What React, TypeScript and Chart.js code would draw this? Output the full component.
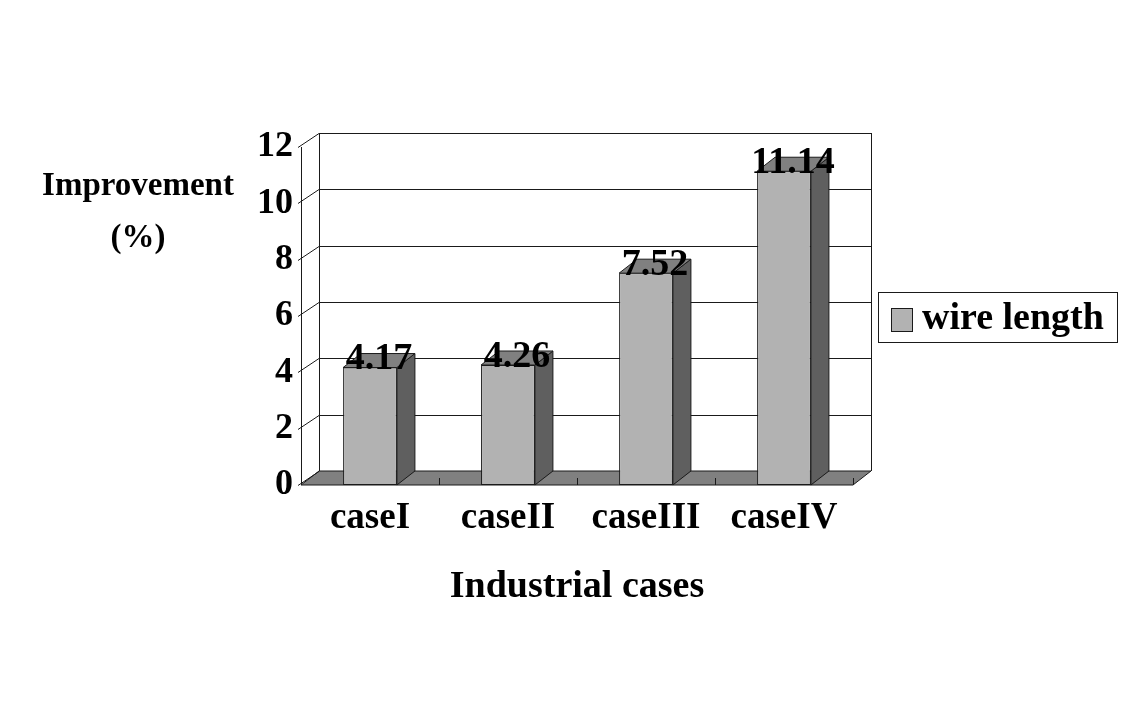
import React, { useEffect, useRef } from "react";
import { Chart, registerables } from "chart.js";
Chart.register(...registerables);

const categories = ["caseI", "caseII", "caseIII", "caseIV"];
const wireLength = [4.17, 4.26, 7.52, 11.14];
const yTicks = [0, 2, 4, 6, 8, 10, 12];
const seriesName = "wire length";
const yTitleLines = ["Improvement", "(%)"];
const xTitle = "Industrial cases";

const FONT = "'Liberation Serif', 'Times New Roman', serif";
const DX = 18;
const DY = 14;
const FRONT = "#b2b2b2";
const SIDE = "#5f5f5f";
const TOP = "#808080";
const FLOOR = "#808080";
const LINE = "#1a1a1a";

const threeD = {
  id: "threeD",
  beforeDatasetsDraw(chart: any) {
    const { ctx, chartArea: a, scales } = chart;
    const ys = scales.y;
    const xs = scales.x;
    const y0 = ys.getPixelForValue(0);
    const yTop = ys.getPixelForValue(yTicks[yTicks.length - 1]);
    ctx.save();
    ctx.lineWidth = 1;
    ctx.strokeStyle = LINE;
    ctx.fillStyle = FLOOR;
    ctx.beginPath();
    ctx.moveTo(a.left, y0);
    ctx.lineTo(a.right, y0);
    ctx.lineTo(a.right + DX, y0 - DY);
    ctx.lineTo(a.left + DX, y0 - DY);
    ctx.closePath();
    ctx.fill();
    ctx.stroke();
    ctx.beginPath();
    for (const v of yTicks) {
      const py = Math.round(ys.getPixelForValue(v)) + 0.5;
      if (v > 0) {
        ctx.moveTo(a.left + DX, py - DY);
        ctx.lineTo(a.right + DX, py - DY);
      }
      ctx.moveTo(a.left - 3, py);
      ctx.lineTo(a.left + DX, py - DY);
    }
    const lx = Math.round(a.left + DX) + 0.5;
    const rx = Math.round(a.right + DX) + 0.5;
    ctx.moveTo(lx, yTop - DY);
    ctx.lineTo(lx, y0 - DY);
    ctx.moveTo(rx, yTop - DY);
    ctx.lineTo(rx, y0 - DY);
    const ax = Math.round(a.left) + 0.5;
    ctx.moveTo(ax, yTop);
    ctx.lineTo(ax, y0);
    for (let i = 1; i <= categories.length; i++) {
      const bx = Math.round(xs.getPixelForValue(i - 0.5)) + 0.5;
      ctx.moveTo(bx, y0);
      ctx.lineTo(bx, y0 - 7);
    }
    ctx.stroke();
    ctx.restore();
  },
  afterDatasetsDraw(chart: any) {
    const { ctx } = chart;
    const meta = chart.getDatasetMeta(0);
    ctx.save();
    ctx.lineWidth = 1;
    ctx.strokeStyle = LINE;
    meta.data.forEach((bar: any) => {
      const { x, y, base, width } = bar.getProps(["x", "y", "base", "width"], true);
      const left = x - width / 2;
      const right = x + width / 2;
      ctx.fillStyle = SIDE;
      ctx.beginPath();
      ctx.moveTo(right, y);
      ctx.lineTo(right + DX, y - DY);
      ctx.lineTo(right + DX, base - DY);
      ctx.lineTo(right, base);
      ctx.closePath();
      ctx.fill();
      ctx.stroke();
      ctx.fillStyle = TOP;
      ctx.beginPath();
      ctx.moveTo(left, y);
      ctx.lineTo(left + DX, y - DY);
      ctx.lineTo(right + DX, y - DY);
      ctx.lineTo(right, y);
      ctx.closePath();
      ctx.fill();
      ctx.stroke();
    });
    ctx.fillStyle = "#000";
    ctx.font = `bold 38px ${FONT}`;
    ctx.textAlign = "center";
    ctx.textBaseline = "middle";
    meta.data.forEach((bar: any, i: number) => {
      const { x, y } = bar.getProps(["x", "y"], true);
      ctx.fillText(wireLength[i].toFixed(2), x + DX / 2, y - 8);
    });
    ctx.restore();
  },
  afterDraw(chart: any) {
    const { ctx } = chart;
    ctx.save();
    ctx.fillStyle = "#000";
    ctx.font = `bold 33px ${FONT}`;
    ctx.textAlign = "center";
    ctx.textBaseline = "middle";
    ctx.fillText(yTitleLines[0], 138, 186);
    ctx.fillText(yTitleLines[1], 138, 238);
    ctx.lineWidth = 1;
    ctx.strokeStyle = LINE;
    ctx.strokeRect(878.5, 292.5, 239, 50);
    ctx.fillStyle = FRONT;
    ctx.fillRect(891, 308, 22, 24);
    ctx.strokeRect(891.5, 308.5, 21, 23);
    ctx.fillStyle = "#000";
    ctx.font = `bold 38px ${FONT}`;
    ctx.textAlign = "left";
    ctx.fillText(seriesName, 922, 319);
    ctx.restore();
  },
};

export default function App() {
  const ref = useRef<HTMLCanvasElement | null>(null);
  useEffect(() => {
    if (!ref.current) return;
    const chart = new Chart(ref.current, {
      type: "bar",
      data: {
        labels: categories,
        datasets: [
          {
            label: seriesName,
            data: wireLength,
            backgroundColor: FRONT,
            borderColor: LINE,
            borderWidth: 1,
            borderSkipped: false,
            barPercentage: 0.39,
            categoryPercentage: 1,
          },
        ],
      },
      options: {
        responsive: false,
        animation: false,
        devicePixelRatio: 1,
        layout: { padding: { left: 0, top: 147, right: 286, bottom: 92 } },
        plugins: { legend: { display: false }, tooltip: { enabled: false } },
        scales: {
          x: {
            grid: { display: false, drawTicks: false },
            border: { display: false },
            ticks: { color: "#000", padding: 11, font: { family: FONT, size: 37, weight: "bold" } },
            title: {
              display: true,
              text: xTitle,
              color: "#000",
              padding: { top: 0, bottom: 0 },
              font: { family: FONT, size: 38, weight: "bold" },
            },
            afterFit: (s: any) => {
              s.height = 125;
            },
          },
          y: {
            min: 0,
            max: 12,
            grid: { display: false, drawTicks: false },
            border: { display: false },
            ticks: {
              stepSize: 2,
              color: "#000",
              padding: 8,
              font: { family: FONT, size: 36, weight: "bold" },
            },
            afterFit: (s: any) => {
              s.width = 301;
            },
          },
        },
      },
      plugins: [threeD],
    } as any);
    return () => chart.destroy();
  }, []);
  return (
    <div style={{ position: "absolute", left: 0, top: 0, width: 1139, height: 702, background: "#fff" }}>
      <canvas ref={ref} width={1139} height={702} style={{ display: "block" }} />
    </div>
  );
}
